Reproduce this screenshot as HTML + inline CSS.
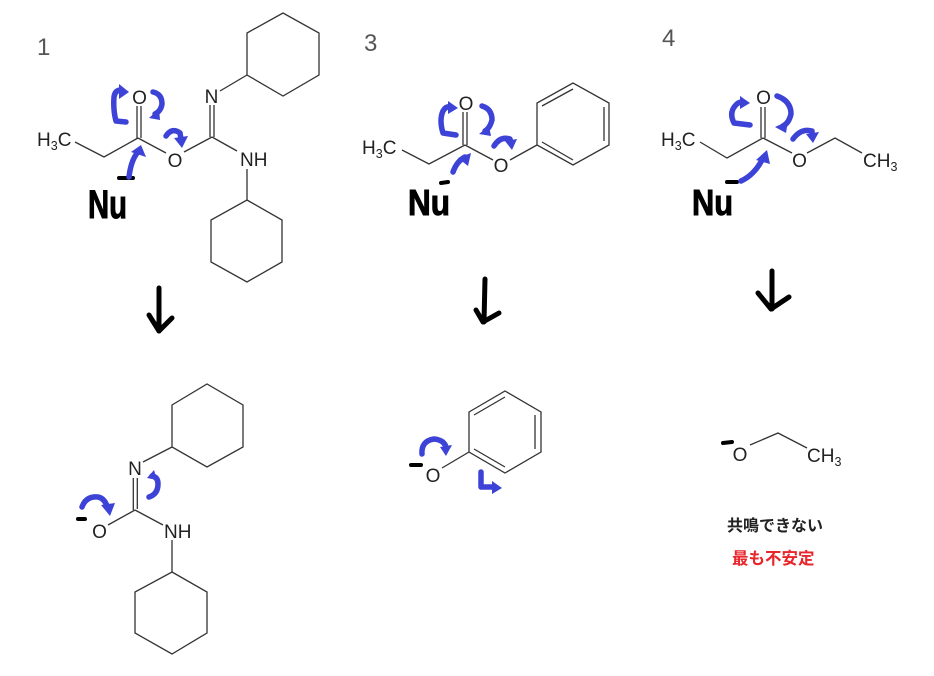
<!DOCTYPE html>
<html><head><meta charset="utf-8"><style>
html,body{margin:0;padding:0;background:#fff;}
svg{display:block;}
text{font-family:"Liberation Sans","Noto Sans CJK JP",sans-serif;}
</style></head><body>
<svg width="934" height="676" viewBox="0 0 934 676" xmlns="http://www.w3.org/2000/svg">
<rect width="934" height="676" fill="#fff"/>
<g font-size="24" fill="#555">
<text x="37" y="55">1</text>
<text x="364" y="51">3</text>
<text x="662" y="46">4</text>
</g>
<!-- bonds -->
<g stroke="#333" stroke-width="1.3" fill="none" stroke-linejoin="miter">
<polyline points="75,142 104,157 138,138"/>
<line x1="137" y1="138" x2="137" y2="106"/><line x1="141" y1="138" x2="141" y2="106"/>
<line x1="138" y1="138" x2="166" y2="153"/>
<line x1="184" y1="152" x2="212" y2="137"/>
<line x1="210" y1="137" x2="210" y2="105"/><line x1="214" y1="137" x2="214" y2="105"/>
<line x1="220" y1="91" x2="247" y2="75"/>
<polygon points="247,75 247,33 283,13 319,33 319,75 283,96"/>
<line x1="212" y1="137" x2="237" y2="151"/>
<line x1="247" y1="169" x2="247" y2="200"/>
<polygon points="247,200 282,220 282,262 247,282 211,262 211,220"/>
<polyline points="402,150 429,164 465,145"/>
<line x1="463" y1="145" x2="463" y2="112"/><line x1="467" y1="145" x2="467" y2="112"/>
<line x1="465" y1="145" x2="493" y2="160"/>
<line x1="510" y1="160" x2="537" y2="145"/>
<polygon points="537,145 537,103 573,83 609,103 609,145 573,165"/>
<line x1="542" y1="106" x2="573" y2="89"/>
<line x1="604" y1="107" x2="604" y2="141"/>
<line x1="542" y1="142" x2="573" y2="160"/>
<polyline points="700,142 727,158 763,138"/>
<line x1="761" y1="138" x2="761" y2="107"/><line x1="765" y1="138" x2="765" y2="107"/>
<line x1="763" y1="138" x2="792" y2="153"/>
<polyline points="807,153 835,138 862,153"/>
<polygon points="172,405 207,384 243,405 243,447 207,467 172,447"/>
<line x1="143" y1="462" x2="172" y2="447"/>
<line x1="133.3" y1="478" x2="133.3" y2="510"/><line x1="137.3" y1="478" x2="137.3" y2="509"/>
<line x1="135" y1="510" x2="108" y2="525"/>
<line x1="135" y1="510" x2="163" y2="525"/>
<line x1="172" y1="540" x2="172" y2="572"/>
<polygon points="172,572 207,592 207,633 172,654 135,633 135,592"/>
<polygon points="469,412 505,391 541,412 541,452 505,473 469,452"/>
<line x1="474" y1="415" x2="505" y2="397"/>
<line x1="535" y1="415" x2="535" y2="449"/>
<line x1="474" y1="449" x2="505" y2="467"/>
<line x1="442" y1="468" x2="469" y2="452"/>
<polyline points="750,445 778,433 807,448"/>
</g>
<!-- atom labels -->
<g font-size="19" fill="#222">
<text x="37" y="146">H<tspan font-size="12.5" dy="4">3</tspan><tspan dy="-4">C</tspan></text>
<text x="139.5" y="104" text-anchor="middle">O</text>
<text x="175" y="167" text-anchor="middle">O</text>
<text x="211.5" y="103" text-anchor="middle">N</text>
<text x="240" y="166">NH</text>

<text x="362" y="154">H<tspan font-size="12.5" dy="4">3</tspan><tspan dy="-4">C</tspan></text>
<text x="466" y="110" text-anchor="middle">O</text>
<text x="501" y="172" text-anchor="middle">O</text>

<text x="661" y="146">H<tspan font-size="12.5" dy="4">3</tspan><tspan dy="-4">C</tspan></text>
<text x="763.5" y="104" text-anchor="middle">O</text>
<text x="799.5" y="167" text-anchor="middle">O</text>
<text x="863" y="167">CH<tspan font-size="12.5" dy="4">3</tspan></text>

<text x="135" y="475" text-anchor="middle">N</text>
<text x="99.5" y="538" text-anchor="middle">O</text>
<text x="164" y="538">NH</text>

<text x="433" y="482" text-anchor="middle">O</text>

<text x="740" y="461" text-anchor="middle">O</text>
<text x="807" y="462">CH<tspan font-size="12.5" dy="4">3</tspan></text>
</g>
<text x="727" y="531" font-size="16" font-weight="bold" fill="#222" style='font-family:"Liberation Sans","Noto Sans CJK JP",sans-serif'>共鳴できない</text>
<text x="732" y="564" font-size="16.5" font-weight="bold" fill="#e8262b" style='font-family:"Liberation Sans","Noto Sans CJK JP",sans-serif'>最も不安定</text>
<!-- Nu handwritten -->
<g fill="#000" stroke="#000" stroke-width="1" font-weight="bold">
<text x="88" y="218" font-size="40" textLength="39" lengthAdjust="spacingAndGlyphs">Nu</text>
<text x="408" y="215" font-size="36" textLength="42" lengthAdjust="spacingAndGlyphs">Nu</text>
<text x="692" y="215" font-size="36" textLength="41" lengthAdjust="spacingAndGlyphs">Nu</text>
</g>
<g stroke="#000" stroke-width="4" stroke-linecap="round">
<line x1="119" y1="178" x2="133" y2="178"/>
<line x1="441" y1="183" x2="448" y2="182"/>
<line x1="727" y1="182" x2="737" y2="182"/>
<line x1="78" y1="519" x2="85" y2="519"/>
<line x1="411" y1="465" x2="421" y2="465"/>
<line x1="723" y1="443" x2="732" y2="442"/>
</g>
<g stroke="#000" stroke-width="5" fill="none" stroke-linecap="round" stroke-linejoin="round">
<line x1="159" y1="288" x2="159" y2="331"/>
<polyline points="149,315 159,331 172,318"/>
<line x1="485" y1="279" x2="484" y2="322"/>
<polyline points="476,310 483,322 499,313"/>
<line x1="772" y1="271" x2="772" y2="309"/>
<polyline points="758,293 771,309 789,297"/>
</g>
<!-- blue curly arrows -->
<g stroke="#3d43d6" stroke-width="5.5" fill="none" stroke-linecap="round" stroke-linejoin="round">
<path d="M126,122 L116,121 Q113,110 114,97 Q115,90 121,90"/>
<path d="M153,92 Q162,94 162,104 Q161,111 155,114"/>
<path d="M166,136 Q172,127 180,133 L181,139"/>
<path d="M129,177 Q131,160 138,152"/>
<path d="M456,135 L443,133 Q439,120 443,111 Q446,106 450,107"/>
<path d="M482,106 Q492,109 492,120 Q490,128 485,131"/>
<path d="M494,146 Q500,136 510,139 L511,144"/>
<path d="M453,172 Q457,161 465,157"/>
<path d="M750,125 L734,123 Q729,113 735,106 Q738,102 742,102"/>
<path d="M777,96 Q791,101 791,114 Q789,123 783,126"/>
<path d="M793,139 Q801,128 812,131 L812,137"/>
<path d="M741,181 Q754,175 762,160"/>
<path d="M82,507 Q86,496 98,497 Q104,498 107,506"/>
<path d="M149,497 Q158,494 158,484 Q158,477 152,476"/>
<path d="M422,454 Q421,441 434,439 Q444,440 446,447"/>
<path d="M481,472 L481,487 L494,487"/>
</g>
<g fill="#3d43d6">
<polygon points="119,84 129,92 119,99"/>
<polygon points="159,109 149,118 160,120"/>
<polygon points="174,138 182,148 188,136"/>
<polygon points="131,152 141,145 146,157"/>

<polygon points="448,101 458,108 448,114"/>
<polygon points="489,126 479,134 491,136"/>
<polygon points="505,141 512,150 517,139"/>
<polygon points="458,158 471,153 468,166"/>

<polygon points="740,96 750,103 740,109"/>
<polygon points="788,121 775,127 786,133"/>
<polygon points="806,134 813,143 819,132"/>
<polygon points="756,160 767,150 770,164"/>

<polygon points="101,505 110,516 115,503"/>
<polygon points="154,470 147,478 157,480"/>

<polygon points="440,447 446,456 452,445"/>
<polygon points="492,481 502,488 492,494"/>
</g>
</svg>
</body></html>
